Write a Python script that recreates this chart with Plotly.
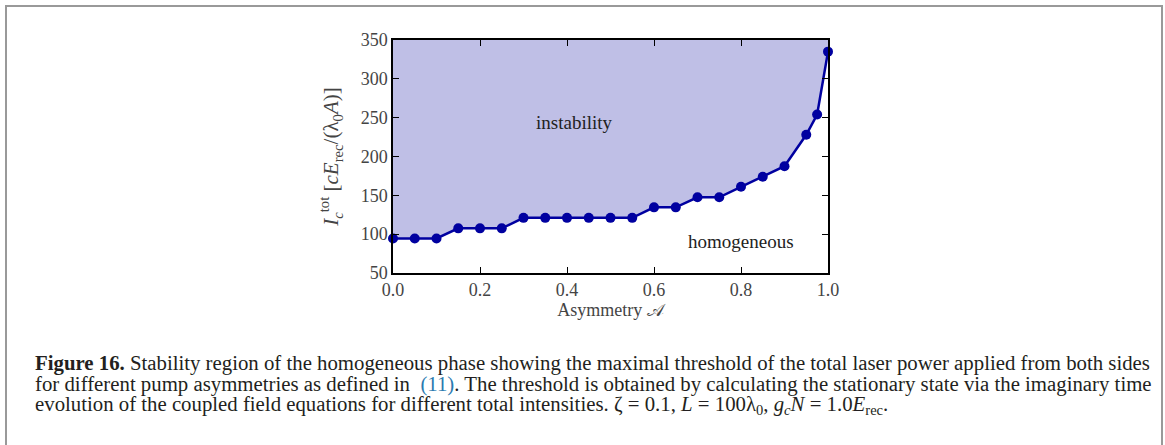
import plotly.graph_objects as go

# asymmetry values and threshold intensity
asym = [0.0, 0.05, 0.1, 0.15, 0.2, 0.25, 0.3, 0.35, 0.4, 0.45, 0.5, 0.55,
        0.6, 0.65, 0.7, 0.75, 0.8, 0.85, 0.9, 0.95, 0.975, 1.0]
thresh = [94.5, 94.5, 94.5, 107.5, 107.5, 107.5, 121, 121, 121, 121, 121, 121,
          134.5, 134.5, 147.5, 147.5, 161, 174, 187.5, 228, 254, 335]
y_top = 350
x_ticks = [0.0, 0.2, 0.4, 0.6, 0.8, 1.0]
y_ticks = [50, 100, 150, 200, 250, 300, 350]

caption = [
    "<b>Figure 16.</b> Stability region of the homogeneous phase showing the maximal threshold of the total laser power applied from both sides",
    "for different pump asymmetries as defined in  <span style='color:#2a7ab0'>(11)</span>. The threshold is obtained by calculating the stationary state via the imaginary time",
    "evolution of the coupled field equations for different total intensities. ζ = 0.1, <i>L</i> = 100λ<sub>0</sub>, <i>g</i><sub><i>c</i></sub><i>N</i> = 1.0<i>E</i><sub>rec</sub>.",
]

W, H = 1165, 445
L, R, T, B = 393, 828, 40, 273


def px_x(p):
    return (p - L) / (R - L)


def px_y(p):
    return (B - p) / (B - T)


serif = "Liberation Serif"
fig = go.Figure()
fig.add_trace(go.Scatter(x=asym, y=[y_top] * len(asym), mode="lines",
                         line=dict(width=0), hoverinfo="skip", showlegend=False))
fig.add_trace(go.Scatter(x=asym, y=thresh, mode="lines+markers", fill="tonexty",
                         fillcolor="#bfbfe6", line=dict(color="#0000a0", width=2.5),
                         marker=dict(size=10, color="#0000a0"), showlegend=False,
                         cliponaxis=False))

fig.add_annotation(x=0.418, y=244, text="instability", showarrow=False,
                   font=dict(family=serif, size=19, color="#222"))
fig.add_annotation(x=0.80, y=90, text="homogeneous", showarrow=False,
                   font=dict(family=serif, size=19, color="#222"))

for i, line in enumerate(caption):
    fig.add_annotation(xref="paper", yref="paper", x=px_x(33), y=px_y(363 + 21 * i),
                       xanchor="left", yanchor="middle", text=line, showarrow=False,
                       font=dict(family=serif, size=20.8, color="#231f20"))

# grey frame round the whole figure
fig.add_shape(type="rect", xref="paper", yref="paper",
              x0=px_x(6), x1=px_x(1162), y0=px_y(470), y1=px_y(6),
              line=dict(color="#999999", width=2))

axis_style = dict(showline=True, linecolor="black", linewidth=1.5, mirror="ticks",
                  ticks="inside", ticklen=6, tickcolor="black", showgrid=False,
                  zeroline=False, tickfont=dict(family=serif, size=18, color="#444"))
fig.update_xaxes(range=[0, 1], tickvals=x_ticks, tickformat=".1f",
                 title=dict(text="Asymmetry 𝒜", font=dict(family=serif, size=18, color="#444"),
                            standoff=4), **axis_style)
fig.update_yaxes(range=[50, 350], tickvals=y_ticks,
                 title=dict(text="<i>I</i><sub><i>c</i></sub><sup>tot</sup> [<i>cE</i><sub>rec</sub>/(λ<sub>0</sub><i>A</i>)]",
                            font=dict(family=serif, size=21, color="#444"), standoff=16),
                 **axis_style)
fig.update_layout(width=W, height=H, margin=dict(l=L, r=W - R, t=T, b=H - B),
                  plot_bgcolor="white", paper_bgcolor="white")

# drop the default body margin so the figure sits at the page corner
fig.write_html("out.html", config={"displayModeBar": False},
               post_script="document.body.style.margin='0';")
